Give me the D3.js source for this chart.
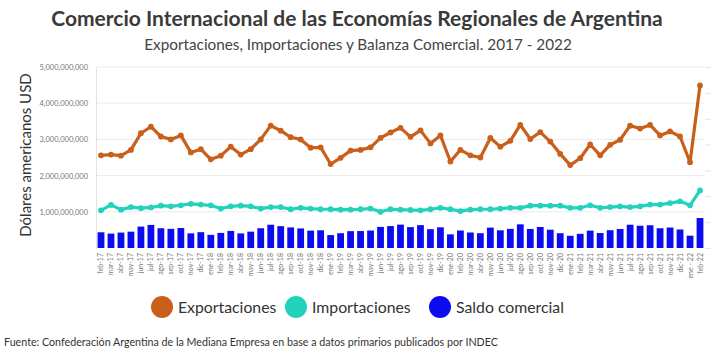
<!DOCTYPE html>
<html>
<head>
<meta charset="utf-8">
<script src="https://cdn.jsdelivr.net/npm/d3@7"></script>
<style>
  body { margin: 0; background: #fff; }
  text { font-family: Lato, "Open Sans", sans-serif; }
</style>
</head>
<body>
<div id="chart"></div>
<script>
// months feb-17 .. feb-22
const months = [
  "feb-17","mar-17","abr-17","may-17","jun-17","jul-17","ago-17","sep-17","oct-17","nov-17","dic-17",
  "ene-18","feb-18","mar-18","abr-18","may-18","jun-18","jul-18","ago-18","sep-18","oct-18","nov-18","dic-18",
  "ene-19","feb-19","mar-19","abr-19","may-19","jun-19","jul-19","ago-19","sep-19","oct-19","nov-19","dic-19",
  "ene-20","feb-20","mar-20","abr-20","may-20","jun-20","jul-20","ago-20","sep-20","oct-20","nov-20","dic-20",
  "ene-21","feb-21","mar-21","abr-21","may-21","jun-21","jul-21","ago-21","sep-21","oct-21","nov-21","dic-21",
  "ene - 22","feb-22"
];

// billions of USD
const exportaciones = [
  2.56, 2.58, 2.55, 2.71, 3.17, 3.35, 3.08, 3.00, 3.11, 2.64, 2.73,
  2.45, 2.55, 2.80, 2.58, 2.73, 3.00, 3.38, 3.24, 3.06, 3.00, 2.77, 2.78,
  2.32, 2.49, 2.69, 2.71, 2.78, 3.04, 3.19, 3.32, 3.07, 3.25, 2.89, 3.11,
  2.39, 2.71, 2.56, 2.50, 3.04, 2.80, 2.96, 3.40, 3.01, 3.20, 2.94, 2.60,
  2.29, 2.48, 2.86, 2.56, 2.85, 2.99, 3.38, 3.30, 3.40, 3.11, 3.22, 3.08,
  2.37, 4.49
];
const importaciones = [
  1.04, 1.19, 1.06, 1.13, 1.10, 1.12, 1.17, 1.15, 1.18, 1.22, 1.20,
  1.18, 1.09, 1.15, 1.17, 1.15, 1.09, 1.13, 1.13, 1.07, 1.11, 1.09, 1.07,
  1.07, 1.06, 1.06, 1.07, 1.09, 1.00, 1.07, 1.06, 1.05, 1.04, 1.07, 1.11,
  1.07, 1.02, 1.06, 1.07, 1.07, 1.09, 1.11, 1.11, 1.17, 1.17, 1.17, 1.17,
  1.11, 1.11, 1.18, 1.11, 1.13, 1.15, 1.13, 1.15, 1.20, 1.20, 1.24, 1.29,
  1.18, 1.59
];
const saldo = [
  1.52, 1.39, 1.49, 1.58, 2.07, 2.23, 1.91, 1.85, 1.93, 1.42, 1.53,
  1.27, 1.46, 1.65, 1.41, 1.58, 1.91, 2.25, 2.11, 1.99, 1.89, 1.68, 1.71,
  1.25, 1.43, 1.63, 1.64, 1.69, 2.04, 2.12, 2.26, 2.02, 2.21, 1.82, 2.00,
  1.32, 1.69, 1.50, 1.43, 1.97, 1.71, 1.85, 2.29, 1.84, 2.03, 1.77, 1.43,
  1.18, 1.37, 1.68, 1.45, 1.72, 1.84, 2.25, 2.15, 2.20, 1.91, 1.98, 1.79,
  1.19, 2.90
];
const yTicks = [1, 2, 3, 4, 5];
const y2Ticks = [0, 2.5, 5, 7.5, 10, 12.5, 15, 17.5];

const legendItems = [
  { name: "Exportaciones", color: "#c95f1b" },
  { name: "Importaciones", color: "#22d2bd" },
  { name: "Saldo comercial", color: "#0c0cf0" }
];

const width = 723, height = 358;
const margin = { left: 96, right: 18, top: 67, bottom: 110 };

const svg = d3.select("#chart").append("svg")
  .attr("width", width)
  .attr("height", height);

const x = d3.scaleBand()
  .domain(months)
  .range([margin.left, width - margin.right])
  .paddingInner(0.32)
  .paddingOuter(0.16);

const y = d3.scaleLinear().domain([0, 5]).range([248, 67]);
const y2 = d3.scaleLinear().domain([0, 17.5]).range([248, 67]);

const cx = d => x(d) + x.bandwidth() / 2;

// gridlines
svg.append("g")
  .selectAll("line")
  .data(yTicks)
  .join("line")
  .attr("x1", margin.left)
  .attr("x2", width - margin.right)
  .attr("y1", d => y(d))
  .attr("y2", d => y(d))
  .attr("stroke", "#ececec")
  .attr("stroke-width", 1);

// left axis
const yAxis = svg.append("g")
  .attr("transform", `translate(${margin.left},0)`)
  .call(d3.axisLeft(y).tickValues(yTicks).tickSize(0).tickPadding(8)
    .tickFormat(d => d3.format(",")(d * 1e9)));
yAxis.select(".domain").attr("stroke", "#e2e2e2");
yAxis.selectAll("text").attr("fill", "#777").attr("font-size", 7.5);

// right axis (no labels)
const y2Axis = svg.append("g")
  .attr("transform", `translate(${width - margin.right},0)`)
  .call(d3.axisRight(y2).tickValues(y2Ticks).tickSize(6).tickFormat(""));
y2Axis.select(".domain").remove();
y2Axis.selectAll("line").attr("stroke", "#e6e6e6");

// bars
svg.append("g")
  .selectAll("rect")
  .data(saldo)
  .join("rect")
  .attr("x", (d, i) => x(months[i]))
  .attr("width", x.bandwidth())
  .attr("y", d => y2(d))
  .attr("height", d => y2(0) - y2(d))
  .attr("fill", legendItems[2].color);

// lines
const line = d3.line()
  .x((d, i) => cx(months[i]))
  .y(d => y(d));

[[exportaciones, legendItems[0].color], [importaciones, legendItems[1].color]].forEach(([vals, color]) => {
  svg.append("path")
    .datum(vals)
    .attr("fill", "none")
    .attr("stroke", color)
    .attr("stroke-width", 3.2)
    .attr("stroke-linejoin", "round")
    .attr("d", line);
  svg.append("g")
    .selectAll("circle")
    .data(vals)
    .join("circle")
    .attr("cx", (d, i) => cx(months[i]))
    .attr("cy", d => y(d))
    .attr("r", 2.9)
    .attr("fill", color);
});

// x labels
svg.append("g")
  .selectAll("text")
  .data(months)
  .join("text")
  .attr("transform", d => `translate(${cx(d) + 2.5},253) rotate(-90)`)
  .attr("text-anchor", "end")
  .attr("font-size", 7)
  .attr("fill", "#777")
  .text(d => d);

// y title
svg.append("text")
  .attr("transform", "translate(31,155) rotate(-90)")
  .attr("text-anchor", "middle")
  .attr("font-size", 15)
  .attr("fill", "#333")
  .text("Dólares americanos USD");

// titles
svg.append("text")
  .attr("x", 357).attr("y", 26)
  .attr("text-anchor", "middle")
  .attr("font-size", 21)
  .attr("font-weight", "bold")
  .attr("fill", "#3a3a3a")
  .text("Comercio Internacional de las Economías Regionales de Argentina");

svg.append("text")
  .attr("x", 358).attr("y", 50)
  .attr("text-anchor", "middle")
  .attr("font-size", 15.3)
  .attr("fill", "#444")
  .text("Exportaciones, Importaciones y Balanza Comercial. 2017 - 2022");

// legend
const legendX = [162, 296, 440];
const lg = svg.append("g").selectAll("g")
  .data(legendItems)
  .join("g")
  .attr("transform", (d, i) => `translate(${legendX[i]},307)`);
lg.append("circle").attr("r", 11).attr("fill", d => d.color);
lg.append("text")
  .attr("x", 16).attr("y", 6)
  .attr("font-size", 15.8)
  .attr("fill", "#333")
  .text(d => d.name);

// source
svg.append("text")
  .attr("x", 4).attr("y", 346)
  .attr("font-size", 10.7)
  .attr("fill", "#333")
  .text("Fuente: Confederación Argentina de la Mediana Empresa en base a datos primarios publicados por INDEC");
</script>
</body>
</html>
